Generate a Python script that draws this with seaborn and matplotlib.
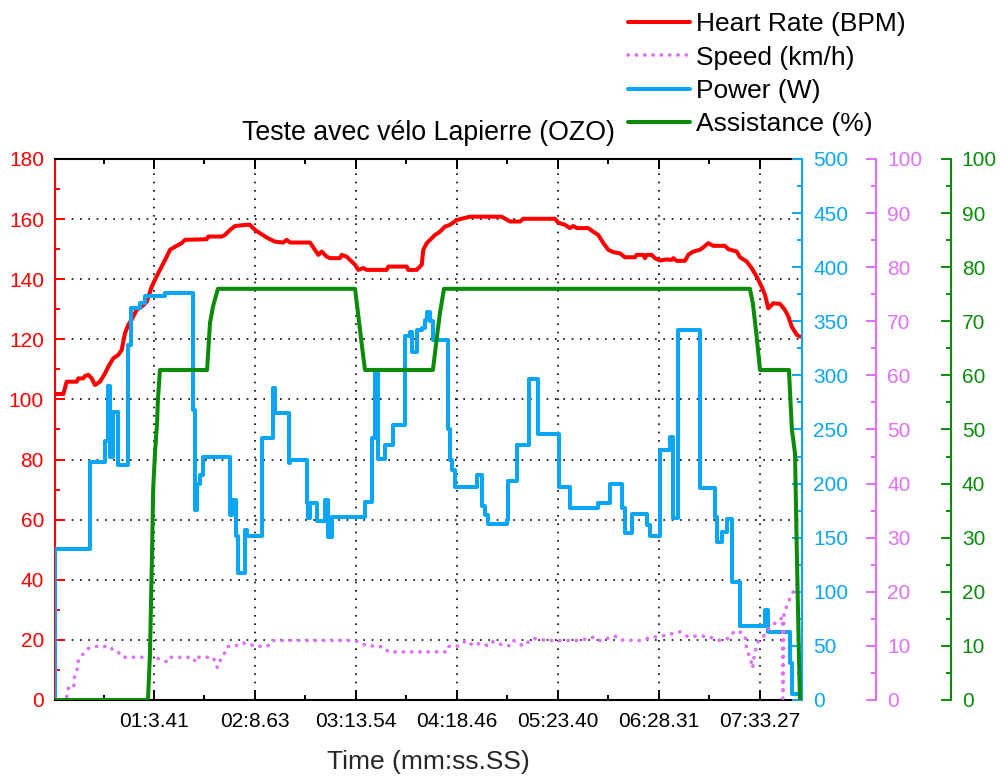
import matplotlib
matplotlib.use("Agg")
import matplotlib.pyplot as plt
from matplotlib.ticker import MultipleLocator, FixedLocator
import seaborn as sns

# heart rate (time in s, bpm)
hr_t = [0, 5.4, 7.5, 14, 15, 18.2, 19.3, 21.4, 23.6, 25.7, 28.9, 32.2, 34.3, 37.5, 40.7, 42.9,
        45, 47.1, 49.3, 52.5, 55.8, 59, 62.2, 64.3, 66.4, 68.6, 70.8, 74, 77.2, 81.5, 83.6, 97.6,
        98.6, 107.2, 109.3, 112.6, 115.8, 123.3, 125.4, 128.6, 131.9, 135.1, 138.3, 141.5, 146.8,
        149, 151.2, 164, 167.2, 169.4, 171.5, 174.8, 176.9, 183.3, 184.4, 187.6, 190.8, 193,
        195.1, 198.3, 200.5, 213.3, 214.4, 226.2, 227.2, 232.6, 235.9, 236.9, 239.1, 242.3,
        244.4, 247.6, 250.8, 254.1, 258.4, 266.9, 287.3, 292.7, 299.1, 301.2, 321.6, 323.7, 328,
        331.2, 333.4, 335.6, 343, 346.2, 349.5, 352.7, 355.9, 359.1, 363.4, 366.6, 373.1, 374.1,
        378.4, 379.5, 380.6, 383.8, 385.9, 389.1, 393.5, 396.7, 397.7, 399.9, 405.2, 407.3,
        410.6, 414.9, 417, 420.2, 423.4, 430.9, 433.1, 438.5, 440.6, 444.9, 448.1, 451.3, 454.5,
        456.7, 458.8, 461, 462, 466.3, 469.5, 471.7, 473.9, 477.1, 479.2]
hr_bpm = [101.8, 101.8, 105.9, 105.9, 107, 107, 107.8, 108.2, 107, 104.8, 105.9, 108.7, 110.9,
          113.7, 114.8, 116.5, 122, 124.8, 126.5, 129.8, 130.9, 132.5, 137.5, 139.8, 142, 144.2,
          146.4, 149.8, 150.8, 152, 153.1, 153.3, 154.2, 154.2, 154.7, 156.4, 157.7, 158.1, 158.1,
          156.4, 155.3, 154.2, 153.3, 152.5, 152.2, 153.1, 152.2, 152.2, 149.8, 148.1, 149.2,
          147.5, 147, 147, 148.1, 147.5, 145.9, 144.8, 143.1, 143.7, 143.1, 143.1, 144.2, 144.2,
          143.1, 143.1, 144.8, 149.8, 152, 153.6, 154.7, 155.8, 157.5, 158.1, 159.7, 160.8, 160.8,
          159.2, 159.2, 160.1, 160.1, 158.8, 158.1, 157, 157.7, 157, 157, 155.8, 154.7, 152,
          149.8, 149, 148.6, 147.3, 147.3, 148.1, 148.1, 147, 148.1, 148.1, 147, 146.2, 146.6,
          146.4, 147, 146.1, 146.1, 148.1, 149.2, 149.8, 150.6, 152, 151.1, 151.1, 150, 149.2,
          147.3, 145.9, 143.7, 140.9, 137.5, 134.8, 130.3, 131.4, 132, 131.8, 129.8, 127.6,
          124.2, 121.5, 120.9]

# speed (time in s, km/h)
spd_t = [7.5, 8.6, 12.0, 12.3, 12.9, 14.4, 15.0, 16.5, 19.3, 21.4, 25.7, 35.4, 37.5, 40.7, 43.5,
         63.7, 67.1, 69.2, 72.5, 74.4, 88.5, 90.5, 92.1, 101.8, 102.9, 104.4, 105.5, 107.8, 111.1,
         115.8, 119.0, 124.1, 128.6, 137.0, 139.4, 193.0, 198.3, 201.5, 206.9, 212.3, 214.4,
         251.9, 253.0, 258.4, 264.8, 269.1, 273.4, 278.7, 281.9, 286.2, 292.7, 294.8, 301.2,
         307.6, 316.3, 337.7, 347.3, 350.5, 360.2, 363.4, 376.3, 383.8, 390.2, 402.0, 406.3,
         419.2, 427.7, 433.1, 437.4, 441.0, 443.8, 444.9, 447.0, 448.8, 449.1, 450.9, 452.3,
         455.6, 459.9, 463.1, 466.3, 467.9, 468.2, 468.9, 471.5, 474.0, 476.6, 479.2]
spd_kmh = [0.6, 2.2, 2.2, 3.7, 4.9, 5.8, 7.4, 8.0, 8.9, 9.5, 9.9, 9.9, 9.1, 8.8, 7.9,
           7.9, 7.6, 7.4, 7.0, 7.9, 7.9, 7.0, 7.9, 7.9, 7.0, 6.0, 7.0, 7.9, 9.9,
           9.9, 10.5, 10.5, 9.9, 10.0, 11.0, 11.0, 10.3, 10.0, 10.0, 9.7, 8.9,
           8.9, 9.9, 9.9, 11.0, 10.0, 10.5, 10.0, 10.8, 10.3, 10.0, 11.0, 10.0,
           11.4, 11.0, 11.0, 11.7, 11.0, 11.8, 11.1, 11.0, 11.6, 11.8, 12.6, 11.8,
           11.8, 11.0, 11.4, 12.8, 12.5, 11.9, 9.2, 8.0, 5.9, 7.1, 9.6, 10.8,
           11.7, 13.5, 14.2, 14.8, 15.3, 0.3, 16.0, 18.0, 19.5, 21.0, 22.3]

# power (time in s, W), step values
pw_t = [0, 0.3, 22.5, 32.2, 34.1, 35.4, 37.3, 40.5, 47, 48.9, 54.7, 57.9, 70.8, 88.8, 90, 91.3,
        93.3, 95.2, 112.6, 113.8, 116.4, 117.7, 122.2, 123.5, 133.1, 140.2, 141.5, 150.5, 151.2,
        162.1, 162.7, 164, 168.5, 173.7, 175.6, 178.2, 199.4, 203.9, 205.8, 207.8, 212.3, 217.4,
        225.1, 228.3, 229.6, 232.8, 236, 238, 239.3, 241.2, 243.1, 252.8, 254.1, 255.4, 257.3,
        271.4, 274.6, 276.6, 278.5, 290.7, 291.4, 297.2, 304.9, 310.7, 324.2, 331.2, 349.3, 357,
        364.7, 366.6, 371.1, 380.8, 382.7, 389.1, 395.5, 397.5, 400.7, 414.9, 424.5, 425.8, 429,
        432.2, 435.4, 440.7, 456.7, 458.6, 472.8, 474, 480.5]
pw_w = [0, 140, 220, 239, 290, 225, 266, 217, 328, 362, 367, 373, 376, 268, 176, 200,
        208, 225, 171, 185, 152, 117, 157, 152, 242, 288, 265, 219, 222,
        182, 168, 182, 165, 185, 151, 169, 183, 242, 302, 223, 236, 254,
        336, 340, 322, 342, 344, 351, 359, 350, 333, 250, 222, 213, 197,
        208, 179, 171, 163, 166, 202, 236, 297, 246, 197, 177, 182, 200,
        177, 154, 172, 162, 152, 231, 243, 168, 342, 196, 169, 146, 155,
        167, 109, 68, 83, 63, 34, 6, 6]

# assistance (time in s, %)
as_t = [0, 59.8, 61.1, 62.4, 63.2, 64.3, 65.6, 66.2, 67.5, 97.8, 99.7, 101.6, 104.8, 193, 194.9,
        197.5, 199.4, 243.1, 245.7, 247.6, 250.2, 447, 448.9, 451.1, 453.5, 472.1, 474, 476,
        477.2, 478.5, 479.2]
as_pct = [0, 0, 8.7, 27, 39.4, 45.6, 51, 55.5, 61, 61, 69.7, 72.7, 76, 76, 71.5,
          65.3, 61, 61, 67.2, 71.5, 76, 76, 73.3, 67.8, 61, 61, 50, 45.6,
          27, 8.6, 0]

tick_labels = ["01:3.41", "02:8.63", "03:13.54", "04:18.46", "05:23.40", "06:28.31", "07:33.27"]
tick_pos = [int(s.split(":")[0]) * 60 + float(s.split(":")[1]) for s in tick_labels]

c_hr = "#ff0000"
c_spd = "#e070f5"
c_pw = "#0aa6f5"
c_as = "#0a8c0a"

sns.set_style("white")
plt.rcParams["font.family"] = ["Liberation Sans", "DejaVu Sans"]
plt.rcParams["text.color"] = "black"

fig = plt.figure(figsize=(10.02, 7.77), dpi=100)
ax = fig.add_axes([0.0549, 0.0991, 0.7455, 0.6963])
ax2 = ax.twinx()
ax3 = ax.twinx()
ax4 = ax.twinx()
ax3.spines["right"].set_position(("axes", 1.099))
ax4.spines["right"].set_position(("axes", 1.199))

sns.lineplot(x=hr_t, y=hr_bpm, ax=ax, color=c_hr, linewidth=2.9, estimator=None, sort=False)
sns.lineplot(x=pw_t, y=pw_w, ax=ax2, color=c_pw, linewidth=2.9, estimator=None, sort=False,
             drawstyle="steps-post")
sns.lineplot(x=spd_t, y=spd_kmh, ax=ax3, color=c_spd, linewidth=2.6, estimator=None, sort=False,
             linestyle=(0, (0.1, 2.2)), dash_capstyle="round")
sns.lineplot(x=as_t, y=as_pct, ax=ax4, color=c_as, linewidth=2.9, estimator=None, sort=False)

ax.set_xlim(0, 480.5)
ax.set_ylim(0, 180)
ax2.set_ylim(0, 500)
ax3.set_ylim(0, 100)
ax4.set_ylim(0, 100)

ax.set_xticks(tick_pos)
ax.set_xticklabels(tick_labels)
minor_x = [tick_pos[0] / 2] + [(a + b) / 2 for a, b in zip(tick_pos[:-1], tick_pos[1:])]
ax.xaxis.set_minor_locator(FixedLocator(minor_x))
ax.yaxis.set_major_locator(MultipleLocator(20))
ax.yaxis.set_minor_locator(MultipleLocator(10))
ax2.yaxis.set_major_locator(MultipleLocator(50))
ax2.yaxis.set_minor_locator(MultipleLocator(25))
for a in (ax3, ax4):
    a.yaxis.set_major_locator(MultipleLocator(10))
    a.yaxis.set_minor_locator(MultipleLocator(5))

ax.grid(True, which="major", color="black", linestyle=(0, (1, 4)), linewidth=1.2)

ax.tick_params(axis="x", which="both", direction="in", bottom=True, top=True,
               colors="black", labelsize=15, pad=9, width=1.4)
ax.tick_params(axis="y", which="both", direction="in", left=True, right=False,
               colors=c_hr, labelsize=15, pad=8, width=1.4)
for a, c in ((ax2, c_pw), (ax3, c_spd), (ax4, c_as)):
    a.tick_params(axis="y", which="both", direction="in", left=False, right=True,
                  colors=c, labelsize=15, pad=8, width=1.4)
    a.tick_params(axis="y", which="major", length=7)
    a.tick_params(axis="y", which="minor", length=3.6)
    for s in ("left", "top", "bottom"):
        a.spines[s].set_visible(False)
    a.spines["right"].set_color(c)
    a.spines["right"].set_linewidth(1.5)
    a.set_ylabel("")
ax.tick_params(which="major", length=7)
ax.tick_params(which="minor", length=3.6)

ax.spines["right"].set_visible(False)
ax.spines["left"].set_color(c_hr)
for s in ("left", "top", "bottom"):
    ax.spines[s].set_linewidth(1.5)
ax.spines["top"].set_color("black")
ax.spines["bottom"].set_color("black")

ax.set_title("Teste avec vélo Lapierre (OZO)", fontsize=19.3, pad=14)
ax.set_xlabel("Time (mm:ss.SS)", fontsize=19, labelpad=13)
ax.set_ylabel("")

handles = [ax.lines[0], ax3.lines[0], ax2.lines[0], ax4.lines[0]]
labels = ["Heart Rate (BPM)", "Speed (km/h)", "Power (W)", "Assistance (%)"]
fig.legend(handles, labels, loc="upper left", bbox_to_anchor=(628 / 1002, 1 - 12 / 777),
           frameon=False, fontsize=19, handlelength=2.34, handletextpad=0.25,
           labelspacing=0.36, borderpad=0, borderaxespad=0)

fig.savefig("out.png", dpi=100)
